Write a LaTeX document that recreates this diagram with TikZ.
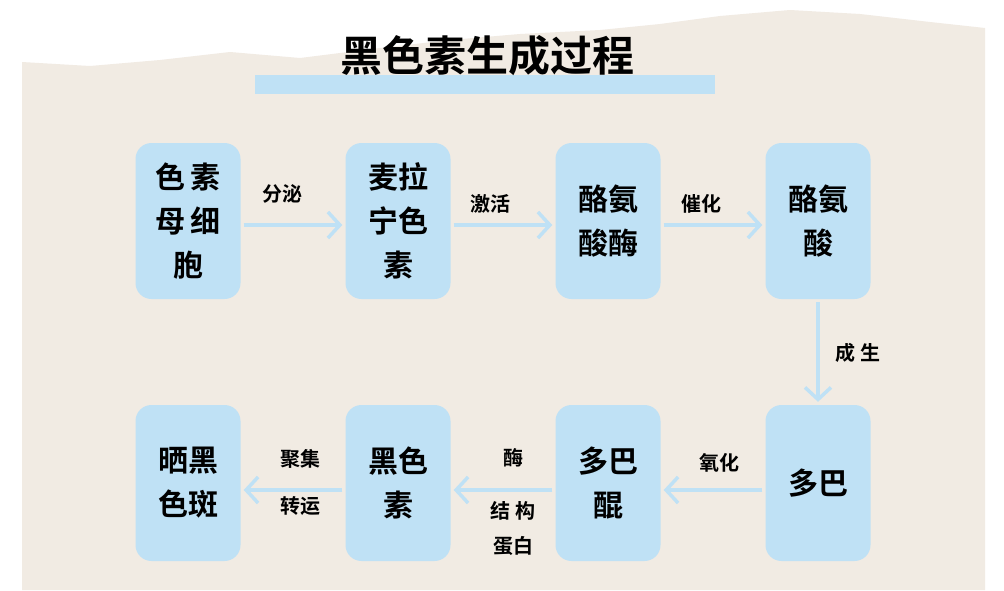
\documentclass[tikz,border=0pt]{standalone}
\usepackage{fontspec}
\setmainfont{Noto Sans CJK SC}[BoldFont={Noto Sans CJK SC Bold}]
\usetikzlibrary{arrows.meta}
\definecolor{Paper}{RGB}{241,235,227}
\definecolor{Cell}{RGB}{191,225,245}
\definecolor{Flow}{RGB}{191,225,245}
\tikzset{
  cellbox/.style={fill=Cell, rounded corners=16pt, minimum width=105pt, minimum height=156pt,
    align=center, font=\fontsize{30}{44}\selectfont\bfseries},
  flow/.style={draw=Flow, line width=3.5pt, -{Straight Barb[length=12pt,width=26pt,line width=3.5pt]}},
  tag/.style={font=\fontsize{20}{24}\selectfont\bfseries}
}
\begin{document}
\begin{tikzpicture}[x=1pt,y=-1pt]
		
		% Paper
		\useasboundingbox (0,0) rectangle (1004,590);
		\fill[white] (0,0) rectangle (1004,590);
		\fill[Paper] (22,590) -- (22,62) -- (90,66) -- (160,60) -- (230,52) -- (300,58) -- (380,48)
		  -- (450,40) -- (520,34) -- (600,30) -- (660,24) -- (720,16) -- (790,10) -- (860,14)
		  -- (930,22) -- (985,28) -- (985,590) -- cycle;
		
		% Title
		\fill[Cell] (255,75) rectangle (715,94);
		\node[font=\fontsize{42}{48}\selectfont\bfseries] (title) at (487,56) {黑色素生成过程};
		
		% Cells
		\node[cellbox] (mel)  at (188,221) {色\,素\\母\,细\\胞};
		\node[cellbox] (msh)  at (398,221) {麦拉\\宁色\\素};
		\node[cellbox] (tyr)  at (608,221) {酪氨\\酸酶};
		\node[cellbox] (tyrn) at (818,221) {酪氨\\酸};
		\node[cellbox] (dopa) at (818,483) {多巴};
		\node[cellbox] (dq)   at (608,483) {多巴\\醌};
		\node[cellbox] (mlan) at (398,483) {黑色\\素};
		\node[cellbox] (spot) at (188,483) {晒黑\\色斑};
		
		% Arrows
		\draw[flow] (mel.east) ++(3,4) -- ([xshift=-3pt,yshift=-4pt]msh.west);
		\draw[flow] (msh.east) ++(3,4) -- ([xshift=-3pt,yshift=-4pt]tyr.west);
		\draw[flow] (tyr.east) ++(3,4) -- ([xshift=-3pt,yshift=-4pt]tyrn.west);
		\draw[flow] (tyrn.south) ++(0,3) -- ([yshift=3pt]dopa.north);
		\draw[flow] (dopa.west) ++(-3,7) -- ([xshift=3pt,yshift=-7pt]dq.east);
		\draw[flow] (dq.west) ++(-3,7) -- ([xshift=3pt,yshift=-7pt]mlan.east);
		\draw[flow] (mlan.west) ++(-3,7) -- ([xshift=3pt,yshift=-7pt]spot.east);
		
		% Labels
		\node[tag] (l1) at (282,194) {分泌};
		\node[tag] (l2) at (490,204) {激活};
		\node[tag] (l3) at (701,204) {催化};
		\node[tag] (l4) at (858,353) {成\ 生};
		\node[tag] (l5) at (719,463) {氧化};
		\node[tag] (l6) at (513,458) {酶};
		\node[tag] (l7) at (513,511) {结\ 构};
		\node[tag] (l8) at (513,546) {蛋白};
		\node[tag] (l9) at (300,459) {聚集};
		\node[tag] (l10) at (300,506) {转运};
		
	\end{tikzpicture}
\end{document}
